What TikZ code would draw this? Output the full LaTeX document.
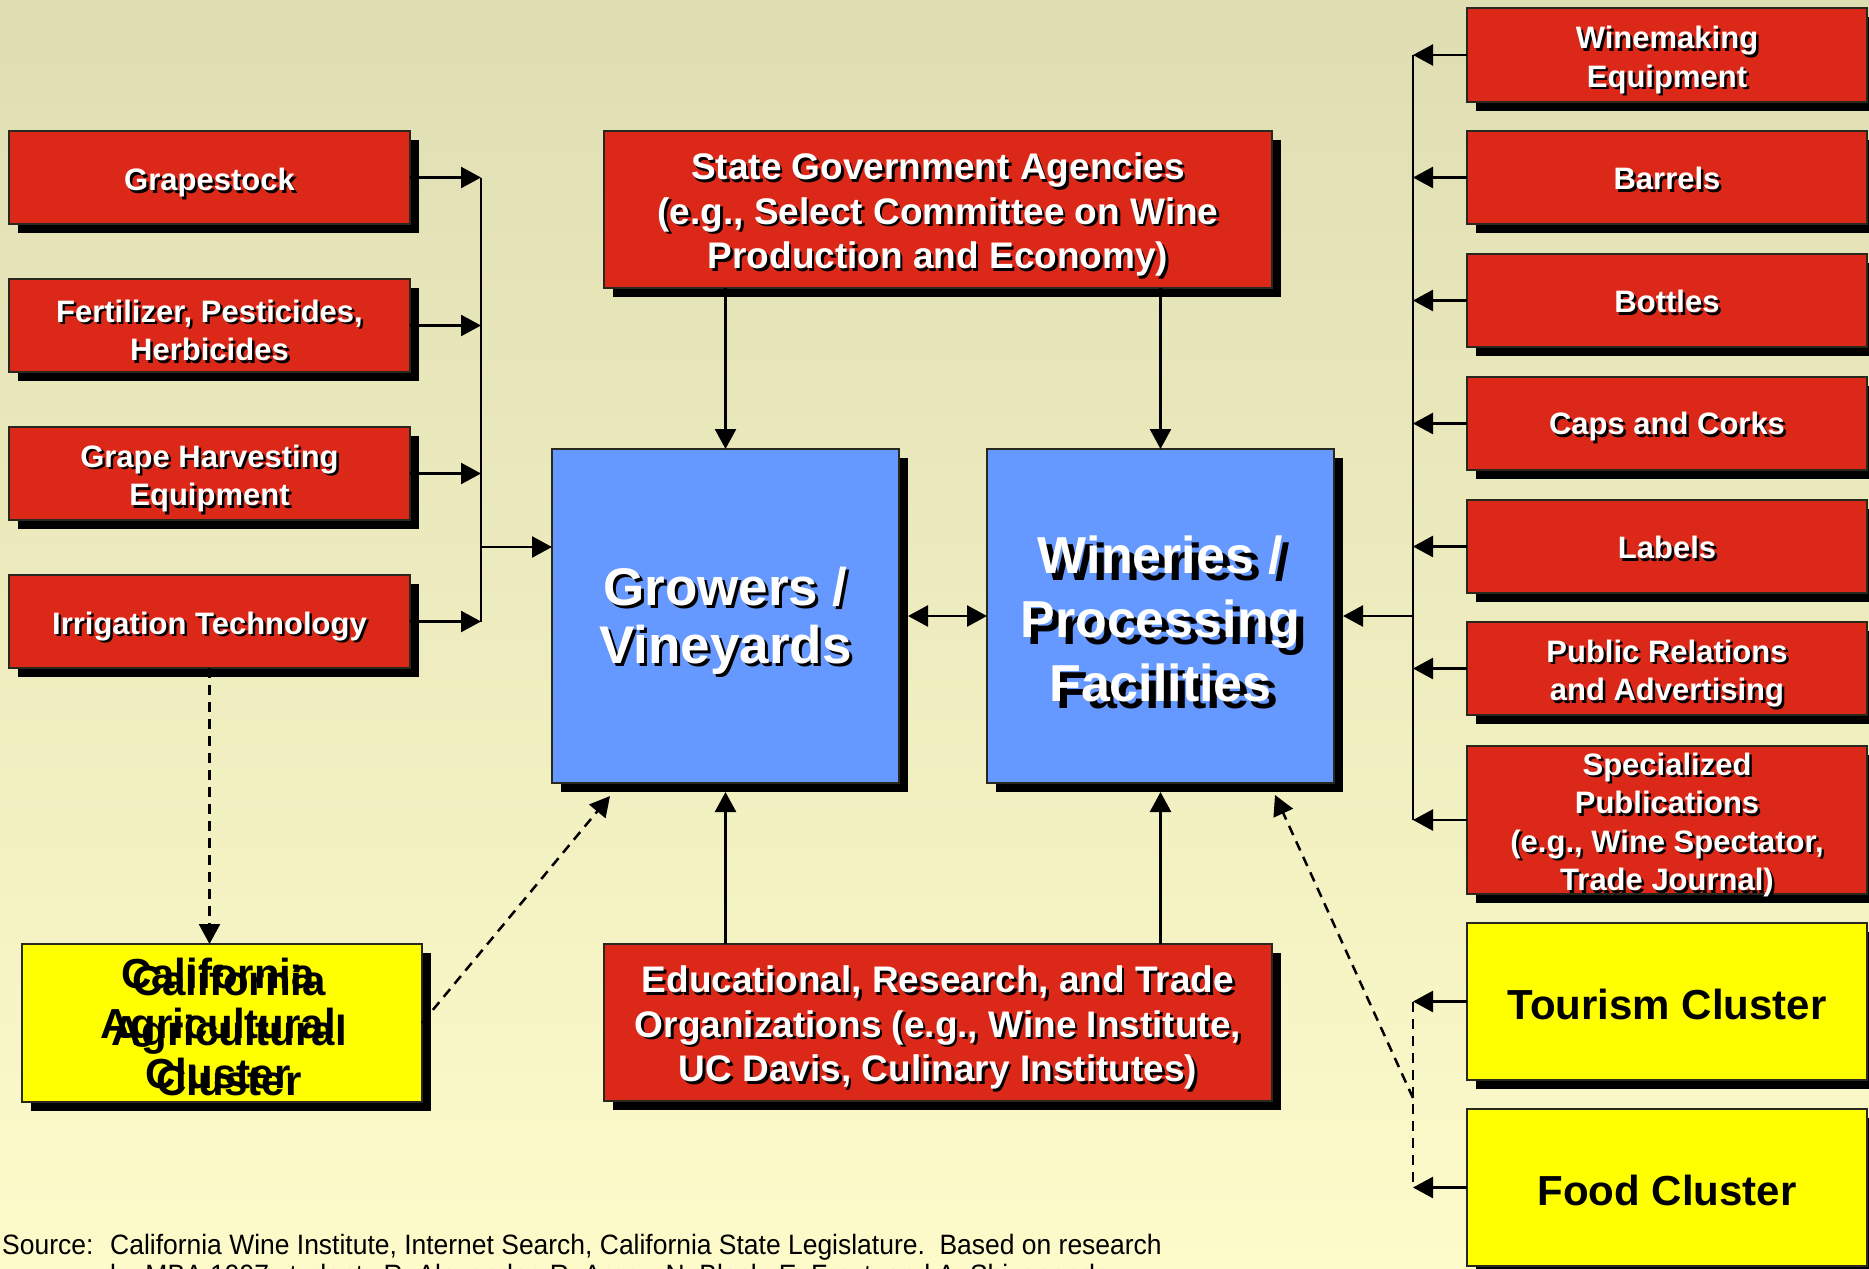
\documentclass[tikz,border=0pt]{standalone}
\usepackage{fontspec}
\setmainfont{Liberation Sans}
\newfontfamily\narrowfont[FakeStretch=0.945]{Liberation Sans}
\usetikzlibrary{arrows.meta,shadows}

\definecolor{bgtop}{RGB}{223,222,179}
\definecolor{bgbottom}{RGB}{253,251,202}
\definecolor{boxred}{RGB}{220,40,24}
\definecolor{boxblue}{RGB}{102,153,255}
\definecolor{boxyellow}{RGB}{255,255,0}
\definecolor{edge}{RGB}{40,40,30}

\tikzset{
  box/.style={draw=edge, line width=1.6pt, anchor=north west, inner sep=0pt, outer sep=0pt,
    drop shadow={shadow xshift=9pt, shadow yshift=-9pt, fill=black, opacity=1}},
  redbox/.style={box, fill=boxred},
  bluebox/.style={box, fill=boxblue},
  yellowbox/.style={box, fill=boxyellow},
  txt/.style={align=center, inner sep=0pt},
  smalltxt/.style={txt, font=\fontsize{31}{38.5}\selectfont\bfseries},
  midtxt/.style={txt, font=\fontsize{37}{44.5}\selectfont\bfseries},
  bigtxt/.style={txt, font=\fontsize{53}{58}\selectfont\bfseries},
  hugetxt/.style={txt, font=\fontsize{52}{64}\selectfont\bfseries},
  clustertxt/.style={txt, font=\fontsize{42}{50}\selectfont\bfseries, text=black},
  srctxt/.style={anchor=base west, inner sep=0pt, font=\narrowfont\fontsize{28}{30}\selectfont},
  arr/.style={line width=2.5pt, -{Triangle[length=20pt,width=21pt]}},
  bus/.style={line width=2.5pt},
  dashline/.style={line width=2.5pt, dash pattern=on 10pt off 7pt},
}

% white label with a black drop shadow, centred on a box (optional #1 = extra drop of the label)
\newcommand{\shadowlabel}[5][5pt]{%
  \node[#4, text=black] (#2-shade) at ([xshift=#3, yshift=-#3-#1]#2.center) {#5};
  \node[#4, text=white] (#2-text) at ([yshift=-#1]#2.center) {#5};
}

\begin{document}
\begin{tikzpicture}[x=1pt, y=-1pt]
\useasboundingbox (0,0) rectangle (1869,1269);
\clip (0,0) rectangle (1869,1269);
\shade[top color=bgtop, bottom color=bgbottom] (0,0) rectangle (1869,1269);

% ---- supplier boxes, left
\node[redbox, minimum width=401pt, minimum height=93pt] (grape) at (9,131) {};
\node[redbox, minimum width=401pt, minimum height=93pt] (fert)  at (9,279) {};
\node[redbox, minimum width=401pt, minimum height=93pt] (harv)  at (9,427) {};
\node[redbox, minimum width=401pt, minimum height=93pt] (irrig) at (9,575) {};
\shadowlabel{grape}{2.5pt}{smalltxt}{Grapestock}
\shadowlabel{fert}{2.5pt}{smalltxt}{Fertilizer, Pesticides,\\Herbicides}
\shadowlabel{harv}{2.5pt}{smalltxt}{Grape Harvesting\\Equipment}
\shadowlabel{irrig}{2.5pt}{smalltxt}{Irrigation Technology}

% ---- core boxes
\node[bluebox, minimum width=347pt, minimum height=334pt] (growers)  at (552,449) {};
\node[bluebox, minimum width=347pt, minimum height=334pt] (wineries) at (987,449) {};
\shadowlabel{growers}{3pt}{bigtxt}{Growers /\\Vineyards}
\shadowlabel[3pt]{wineries}{7pt}{hugetxt}{Wineries /\\Processing\\Facilities}

% ---- institutions
\node[redbox, minimum width=668pt, minimum height=157pt] (state) at (604,131) {};
\node[redbox, minimum width=668pt, minimum height=157pt] (edu)   at (604,944) {};
\shadowlabel{state}{2.5pt}{midtxt}{State Government Agencies\\(e.g., Select Committee on Wine\\Production and Economy)}
\shadowlabel{edu}{2.5pt}{midtxt}{Educational, Research, and Trade\\Organizations (e.g., Wine Institute,\\UC Davis, Culinary Institutes)}

% ---- related cluster, left
\node[yellowbox, minimum width=400pt, minimum height=158pt] (cal) at (22,944) {};
\node[clustertxt] (cal-text1) at ([xshift=-4pt, yshift=0pt]cal.center) {California\\Agricultural\\Cluster};
\node[clustertxt] (cal-text2) at ([xshift=7pt, yshift=-7pt]cal.center) {California\\Agricultural\\Cluster};

% ---- supplier boxes, right
\node[redbox, minimum width=400pt, minimum height=94pt] (wine)   at (1467,8) {};
\node[redbox, minimum width=400pt, minimum height=93pt] (barrel) at (1467,131) {};
\node[redbox, minimum width=400pt, minimum height=93pt] (bottle) at (1467,254) {};
\node[redbox, minimum width=400pt, minimum height=93pt] (caps)   at (1467,377) {};
\node[redbox, minimum width=400pt, minimum height=93pt] (labels) at (1467,500) {};
\node[redbox, minimum width=400pt, minimum height=93pt] (pr)     at (1467,622) {};
\node[redbox, minimum width=400pt, minimum height=148pt] (spec)  at (1467,746) {};
\shadowlabel{wine}{2.5pt}{smalltxt}{Winemaking\\Equipment}
\shadowlabel[1pt]{barrel}{2.5pt}{smalltxt}{Barrels}
\shadowlabel[1pt]{bottle}{2.5pt}{smalltxt}{Bottles}
\shadowlabel[3pt]{caps}{2.5pt}{smalltxt}{Caps and Corks}
\shadowlabel[1pt]{labels}{2.5pt}{smalltxt}{Labels}
\shadowlabel{pr}{2.5pt}{smalltxt}{Public Relations\\and Advertising}
\shadowlabel{spec}{2.5pt}{smalltxt}{Specialized\\Publications\\(e.g., Wine Spectator,\\Trade Journal)}

% ---- related clusters, right
\node[yellowbox, minimum width=400pt, minimum height=157pt] (tour) at (1467,923) {};
\node[yellowbox, minimum width=400pt, minimum height=157pt] (food) at (1467,1109) {};
\node[clustertxt] (tour-text) at ([yshift=-3pt]tour.center) {Tourism Cluster};
\node[clustertxt] (food-text) at ([yshift=-3pt]food.center) {Food Cluster};

% ---- left supplier bus
\coordinate (lbus) at (481,0);
\coordinate (lfeed) at (481,547);
\foreach \b in {grape,fert,harv,irrig}
  \draw[arr] (\b.east) -- (\b.east -| lbus);
\draw[bus] (grape.east -| lbus) -- (irrig.east -| lbus);
\draw[arr] (lfeed) -- (lfeed -| growers.west);

% ---- right supplier bus
\coordinate (rbus) at (1413,0);
\foreach \b in {wine,barrel,bottle,caps,labels,pr,spec}
  \draw[arr] (\b.west) -- (\b.west -| rbus);
\draw[bus] (wine.west -| rbus) -- (spec.west -| rbus);
\draw[arr] (rbus |- wineries.east) -- ([xshift=9pt]wineries.east);

% ---- core links
\draw[arr, {Triangle[length=20pt,width=21pt]}-{Triangle[length=20pt,width=21pt]}]
  ([xshift=9pt]growers.east) -- (wineries.west);
\draw[arr] (state.south -| growers.north) -- (growers.north);
\draw[arr] (state.south -| wineries.north) -- (wineries.north);
\draw[arr] (edu.north -| growers.south) -- ([yshift=-9pt]growers.south);
\draw[arr] (edu.north -| wineries.south) -- ([yshift=-9pt]wineries.south);

% ---- links to related clusters
\draw[dashline, arr] (irrig.south) -- (irrig.south |- cal.north);
\draw[dashline, arr] (cal.east) -- ([xshift=58pt, yshift=-13pt]growers.south west);
\draw[arr] (tour.west) -- (tour.west -| rbus);
\draw[arr] (food.west) -- (food.west -| rbus);
\draw[dashline] (tour.west -| rbus) -- (food.west -| rbus);
\coordinate (tjoin) at (1413,1098);
\draw[dashline, arr] (tjoin) -- ([xshift=-59pt, yshift=-12pt]wineries.south east);

% ---- source note
\node[srctxt] (srclabel) at (2,1254) {Source:};
\node[srctxt] (srcline1) at (110,1254) {California Wine Institute, Internet Search, California State Legislature.\ \ Based on research};
\node[srctxt] (srcline2) at (110,1284) {by MBA 1997 students R. Alexander, R. Arney, N. Black, E. Frost, and A. Shivananda};
\end{tikzpicture}
\end{document}
